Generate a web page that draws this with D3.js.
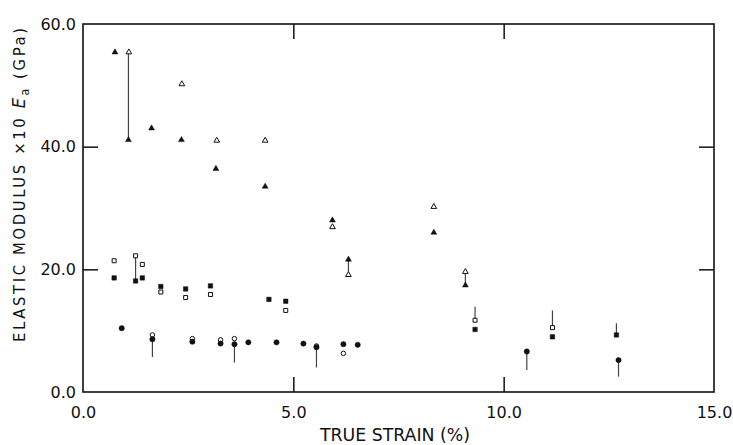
<!DOCTYPE html>
<html>
<head>
<meta charset="utf-8">
<script src="https://cdn.jsdelivr.net/npm/d3@7"></script>
<style>
  html, body { margin: 0; padding: 0; background: #fff; }
  svg { display: block; }
</style>
</head>
<body>
<svg id="chart" width="733" height="445"></svg>
<script>
// ---- data (true strain %, modulus) ----
const xTicks = [0, 5, 10, 15];
const yTicks = [0, 20, 40, 60];

const triFilled = [[0.76,55.4],[1.08,41.1],[1.63,43.0],[2.34,41.1],[3.16,36.4],[4.33,33.5],[5.93,28.0],[6.31,21.6],[8.34,26.0],[9.09,17.4]];
const triOpen   = [[1.09,55.4],[2.35,50.2],[3.18,41.0],[4.33,41.0],[5.93,26.9],[6.31,19.1],[8.34,30.2],[9.09,19.6]];
const sqFilled  = [[0.74,18.6],[1.25,18.1],[1.41,18.6],[1.85,17.2],[2.44,16.8],[3.03,17.3],[4.42,15.1],[4.82,14.8],[9.32,10.2],[11.16,9.0],[12.68,9.3]];
const sqOpen    = [[0.74,21.4],[1.25,22.2],[1.41,20.8],[1.85,16.3],[2.44,15.4],[3.03,15.9],[4.82,13.3],[9.32,11.7],[11.16,10.5]];
const circFilled= [[0.92,10.4],[1.65,8.6],[2.60,8.2],[3.27,7.9],[3.60,7.8],[3.93,8.1],[4.60,8.1],[5.24,7.9],[5.55,7.3],[6.19,7.8],[6.53,7.7],[10.55,6.6],[12.73,5.2]];
const circOpen  = [[1.65,9.3],[2.60,8.7],[3.27,8.5],[3.60,8.7],[5.55,7.5],[6.19,6.3]];
// vertical connecting lines: x, yLow, yHigh
const links = [[1.08,41.1,55.4],[1.25,18.1,22.2],[1.65,5.7,8.6],[3.60,4.8,7.8],[5.55,4.0,7.3],[6.31,19.1,21.6],[9.09,17.4,19.6],[9.32,11.7,13.9],[10.55,3.6,6.6],[11.16,10.5,13.3],[12.68,9.3,11.2],[12.73,2.5,5.2]];

// ---- layout ----
const svg = d3.select("#chart");
const x = d3.scaleLinear().domain([0, 15]).range([83, 714]);
const y = d3.scaleLinear().domain([0, 60]).range([392, 24]);
const ink = "#111";
const fmt = d3.format(".1f");

// frame
svg.append("rect")
  .attr("x", x(0)).attr("y", y(60))
  .attr("width", x(15) - x(0)).attr("height", y(0) - y(60))
  .attr("fill", "none").attr("stroke", ink).attr("stroke-width", 1.6);

function styleAxis(g) {
  g.select(".domain").remove();
  g.selectAll(".tick line").attr("stroke", ink).attr("stroke-width", 1.5);
  g.selectAll(".tick text").attr("fill", ink)
    .attr("font-family", "'DejaVu Sans', sans-serif").attr("font-size", 16);
}

// bottom axis with labels
svg.append("g").attr("transform", `translate(0,${y(0)})`)
  .call(d3.axisBottom(x).tickValues(xTicks).tickFormat(fmt).tickSize(-15).tickPadding(15))
  .call(styleAxis)
  .call(g => g.selectAll(".tick line").filter(d => d === 0 || d === 15).remove());
// left axis with labels
svg.append("g").attr("transform", `translate(${x(0)},0)`)
  .call(d3.axisLeft(y).tickValues(yTicks).tickFormat(fmt).tickSize(-15).tickPadding(7))
  .call(styleAxis)
  .call(g => g.selectAll(".tick line").filter(d => d === 0 || d === 60).remove());
// top and right inner ticks
svg.append("g").attr("transform", `translate(0,${y(60)})`)
  .call(d3.axisTop(x).tickValues([5, 10]).tickFormat("").tickSize(-15))
  .call(styleAxis);
svg.append("g").attr("transform", `translate(${x(15)},0)`)
  .call(d3.axisRight(y).tickValues([20, 40]).tickFormat("").tickSize(-15))
  .call(styleAxis);

// connecting lines
svg.append("g").selectAll("line").data(links).join("line")
  .attr("x1", d => x(d[0])).attr("x2", d => x(d[0]))
  .attr("y1", d => y(d[1])).attr("y2", d => y(d[2]))
  .attr("stroke", "#444").attr("stroke-width", 1.2);

function drawSymbols(data, type, size, filled) {
  svg.append("g").selectAll("path").data(data).join("path")
    .attr("transform", d => `translate(${x(d[0])},${y(d[1])})`)
    .attr("d", d3.symbol().type(type).size(size)())
    .attr("fill", filled ? ink : "#fff")
    .attr("stroke", ink).attr("stroke-width", filled ? 0.5 : 1);
}
drawSymbols(triOpen, d3.symbolTriangle, 14, false);
drawSymbols(sqOpen, d3.symbolSquare, 16, false);
drawSymbols(circOpen, d3.symbolCircle, 16, false);
drawSymbols(triFilled, d3.symbolTriangle, 15, true);
drawSymbols(sqFilled, d3.symbolSquare, 20, true);
drawSymbols(circFilled, d3.symbolCircle, 22, true);

// axis titles
svg.append("text")
  .attr("x", 395).attr("y", 441)
  .attr("text-anchor", "middle")
  .attr("font-family", "'Liberation Sans Narrow', 'DejaVu Sans Condensed', sans-serif")
  .attr("font-size", 18).attr("fill", ink)
  .attr("textLength", 150).attr("lengthAdjust", "spacingAndGlyphs")
  .text("TRUE STRAIN (%)");

const yt = svg.append("text")
  .attr("transform", "translate(25,185) rotate(-90)")
  .attr("text-anchor", "middle")
  .attr("font-family", "'DejaVu Sans Condensed', 'DejaVu Sans', sans-serif")
  .attr("font-size", 16.5).attr("fill", ink)
  .attr("textLength", 314).attr("lengthAdjust", "spacing");
yt.append("tspan").text("ELASTIC MODULUS ×10 ");
yt.append("tspan").attr("font-style", "italic").attr("font-size", 18).text("E");
yt.append("tspan").attr("font-size", 12).attr("dy", 4).text("a");
yt.append("tspan").attr("dy", -4).text(" (GPa)");
</script>
</body>
</html>
